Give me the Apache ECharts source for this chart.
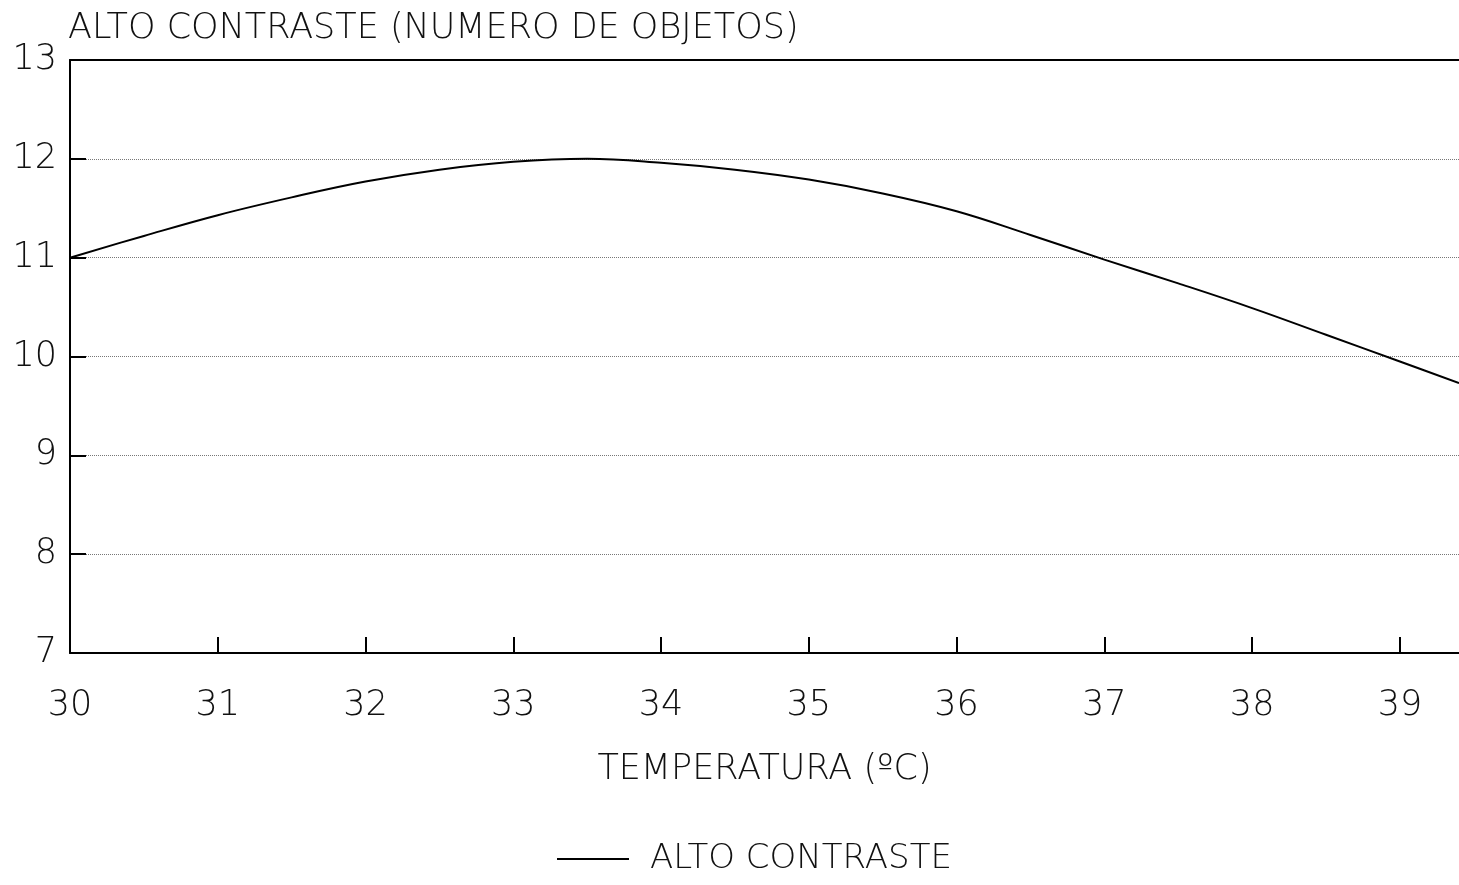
<!DOCTYPE html>
<html>
<head>
<meta charset="utf-8">
<script src="https://cdn.jsdelivr.net/npm/echarts@6/dist/echarts.min.js"></script>
<style>
  html, body { margin: 0; padding: 0; background: #fff; }
  #chart { width: 1459px; height: 885px; }
</style>
</head>
<body>
<div id="chart"></div>
<script>
// temperatura (ºC) y numero de objetos
var temperaturas = [30, 30.5, 31, 31.5, 32, 32.5, 33, 33.5, 34, 34.5, 35, 35.5, 36, 36.5, 37, 37.5, 38, 38.5, 39, 39.4];
var altoContraste = [11.00, 11.22, 11.43, 11.61, 11.77, 11.89, 11.97, 12.00, 11.96, 11.89, 11.79, 11.65, 11.47, 11.23, 10.98, 10.74, 10.49, 10.22, 9.95, 9.73];

var fuente = 'DejaVu Sans';
var peso = 200;
var puntos = temperaturas.map(function (t, i) { return [t, altoContraste[i]]; });

var chart = echarts.init(document.getElementById('chart'));
chart.setOption({
  animation: false,
  backgroundColor: '#fff',
  title: {
    text: 'ALTO CONTRASTE (NUMERO DE OBJETOS)',
    left: 63,
    top: 6,
    textStyle: { fontFamily: fuente, fontSize: 35, fontWeight: peso, color: '#111' }
  },
  legend: {
    bottom: 4,
    left: 552,
    icon: 'rect',
    itemWidth: 72,
    itemHeight: 2,
    textStyle: { fontFamily: fuente, fontSize: 34, fontWeight: peso, color: '#111', padding: [0, 0, 0, 16] },
    data: ['ALTO CONTRASTE']
  },
  grid: {
    left: 70,
    right: 0,
    top: 60,
    bottom: 232
  },
  xAxis: [{
    type: 'value',
    min: 30,
    max: 39.4,
    interval: 1,
    name: 'TEMPERATURA (ºC)',
    nameLocation: 'middle',
    nameGap: 99,
    nameTextStyle: { fontFamily: fuente, fontSize: 35, fontWeight: peso, color: '#111' },
    axisLine: { lineStyle: { color: '#000', width: 2 } },
    axisTick: { inside: true, length: 16, lineStyle: { color: '#000', width: 2 } },
    axisLabel: { showMaxLabel: false, margin: 35, fontFamily: fuente, fontSize: 35, fontWeight: peso, color: '#111' },
    splitLine: { show: false }
  }, {
    type: 'value',
    position: 'top',
    min: 30,
    max: 39.4,
    axisLine: { show: true, lineStyle: { color: '#000', width: 2 } },
    axisTick: { show: false },
    axisLabel: { show: false },
    splitLine: { show: false }
  }],
  yAxis: {
    type: 'value',
    min: 7,
    max: 13,
    interval: 1,
    axisLine: { show: true, lineStyle: { color: '#000', width: 2 } },
    axisTick: { show: true, inside: true, length: 16, lineStyle: { color: '#000', width: 2 } },
    axisLabel: { margin: 13, fontFamily: fuente, fontSize: 35, fontWeight: peso, color: '#111' },
    splitLine: { show: true, lineStyle: { type: 'dotted', color: '#777', width: 1 } }
  },
  series: [{
    name: 'ALTO CONTRASTE',
    type: 'line',
    data: puntos,
    smooth: 0.4,
    symbol: 'none',
    lineStyle: { color: '#000', width: 2 },
    itemStyle: { color: '#000' }
  }]
});
</script>
</body>
</html>
